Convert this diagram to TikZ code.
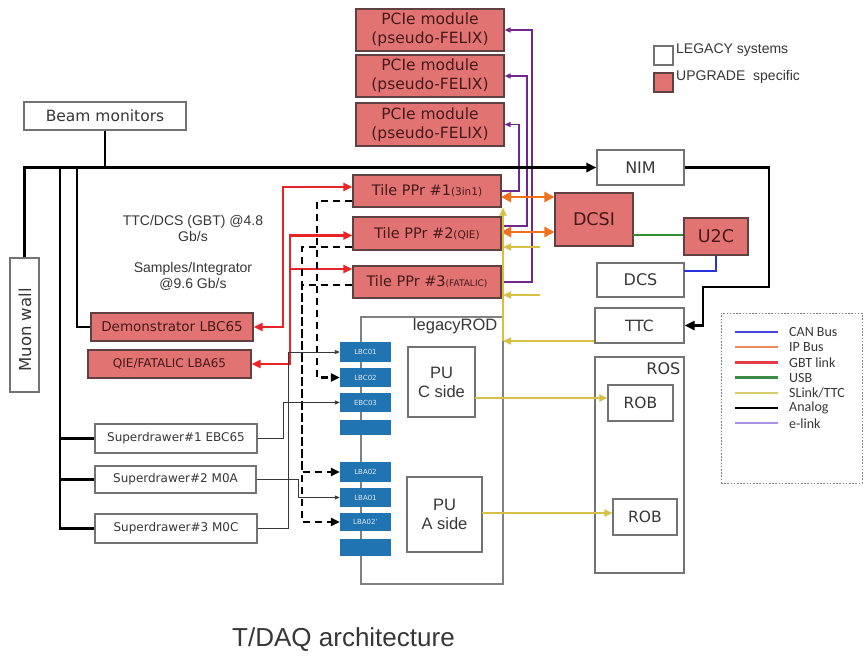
\documentclass[tikz,border=0pt]{standalone}
\usepackage{fontspec}
\setmainfont{DejaVu Sans}
\newfontfamily\ls{Liberation Sans}
\newfontfamily\cl{Carlito}
\usetikzlibrary{arrows.meta}
\definecolor{pinkf}{RGB}{226,115,115}
\definecolor{pinkd}{RGB}{95,65,65}
\definecolor{ptext}{RGB}{70,25,25}
\definecolor{bgray}{RGB}{115,115,115}
\definecolor{tgray}{RGB}{55,55,55}
\definecolor{rblue}{RGB}{32,116,178}
\definecolor{gbtred}{RGB}{232,36,40}
\definecolor{elpurple}{RGB}{112,40,140}
\definecolor{iporange}{RGB}{240,112,30}
\definecolor{usbgreen}{RGB}{50,140,50}
\definecolor{canblue}{RGB}{40,50,220}
\definecolor{slyellow}{RGB}{214,192,70}
\definecolor{lcan}{RGB}{70,70,220}
\definecolor{lip}{RGB}{235,140,90}
\definecolor{lgbt}{RGB}{230,60,70}
\definecolor{lusb}{RGB}{60,140,70}
\definecolor{lsl}{RGB}{215,205,110}
\definecolor{lel}{RGB}{170,145,230}
\tikzset{
 gtip/.tip={Triangle[length=9pt,width=8pt]},
 dtip/.tip={Triangle[length=9pt,width=8pt]},
 otip/.tip={Triangle[length=10pt,width=10pt]},
 etip/.tip={Triangle[length=6pt,width=5pt]},
 atip/.tip={Triangle[length=10pt,width=9pt]},
 stip/.tip={Triangle[length=8pt,width=7pt]},
 ttip/.tip={Triangle[length=5pt,width=4pt]},
 box/.style={draw=bgray, line width=1.1pt, fill=white, inner sep=0pt, text=tgray, align=center, font=\fontsize{14}{17}\selectfont},
 upg/.style={box, fill=pinkf, draw=pinkd, text=ptext},
 rodin/.style={fill=rblue, draw=none, inner sep=0pt, minimum width=51pt, text=white!85!rblue, font=\fontsize{7}{8}\selectfont},
 analog/.style={line width=2.6pt, black},
 gbt/.style={line width=2.4pt, gbtred},
 dsh/.style={line width=2.4pt, black, dash pattern=on 7pt off 5pt},
 elink/.style={line width=1.4pt, elpurple},
 ipbus/.style={line width=2.6pt, iporange},
 usb/.style={line width=2.4pt, usbgreen},
 canbus/.style={line width=2.4pt, canblue},
 slink/.style={line width=2.2pt, slyellow},
 thinl/.style={line width=0.9pt, tgray},
 lab/.style={inner sep=0pt, text=tgray, align=center},
}
\begin{document}
\begin{tikzpicture}[x=1pt,y=-1pt]
\useasboundingbox[fill=white] (0,0) rectangle (868,657);

% PCIe modules
\node[upg, minimum width=148pt, minimum height=42pt, font=\fontsize{15.5}{19}\selectfont] (pcie1) at (430,30) {PCIe module\\(pseudo-FELIX)};
\node[upg, minimum width=148pt, minimum height=42pt, font=\fontsize{15.5}{19}\selectfont] (pcie2) at (430,76) {PCIe module\\(pseudo-FELIX)};
\node[upg, minimum width=148pt, minimum height=43pt, font=\fontsize{15.5}{19}\selectfont] (pcie3) at (430,124.5) {PCIe module\\(pseudo-FELIX)};

% Tile PPr
\node[upg, minimum width=148pt, minimum height=32pt, font=\fontsize{14.5}{16}\selectfont] (ppr1) at (427,191) {Tile PPr \#1{\fontsize{10.5}{12}\selectfont(3in1)}};
\node[upg, minimum width=148pt, minimum height=33pt, font=\fontsize{14.5}{16}\selectfont] (ppr2) at (427,233.5) {Tile PPr \#2{\fontsize{10.5}{12}\selectfont(QIE)}};
\node[upg, minimum width=148pt, minimum height=32pt, font=\fontsize{14.5}{16}\selectfont] (ppr3) at (427,282) {Tile PPr \#3{\fontsize{9}{12}\selectfont(FATALIC)}};

% left side
\node[box, minimum width=162pt, minimum height=28pt, font=\fontsize{15.5}{17}\selectfont] (beam) at (105,116) {Beam monitors};
\node[box, minimum width=29pt, minimum height=134pt] (muon) at (24.5,325) {};
\node[lab, rotate=90, font=\fontsize{16.5}{18}\selectfont] (muontxt) at (25,330) {Muon wall};
\node[upg, minimum width=162pt, minimum height=28pt, font=\fontsize{13.5}{16}\selectfont] (demo) at (172,327) {Demonstrator LBC65};
\node[upg, minimum width=163pt, minimum height=28pt, font=\fontsize{12}{15}\selectfont] (qie) at (169.5,364) {QIE/FATALIC LBA65};
\node[box, minimum width=162pt, minimum height=29pt, font=\fontsize{12}{14}\selectfont] (sd1) at (176,438.5) {Superdrawer\#1 EBC65};
\node[box, minimum width=161pt, minimum height=27pt, font=\fontsize{12}{14}\selectfont] (sd2) at (175.5,479.5) {Superdrawer\#2 M0A};
\node[box, minimum width=162pt, minimum height=29pt, font=\fontsize{12}{14}\selectfont] (sd3) at (176,528.5) {Superdrawer\#3 M0C};

\node[lab, font=\ls\fontsize{14}{16}\selectfont] (t1) at (193,228) {TTC/DCS (GBT) @4.8\\Gb/s};
\node[lab, font=\ls\fontsize{14}{16}\selectfont] (t2) at (193,276.5) {Samples/Integrator\\@9.6 Gb/s};

% right side
\node[box, minimum width=87pt, minimum height=35pt, font=\fontsize{16}{18}\selectfont] (nim) at (640.5,167.5) {NIM};
\node[upg, minimum width=78pt, minimum height=53pt, font=\fontsize{17.5}{20}\selectfont] (dcsi) at (594,219.5) {DCSI};
\node[upg, minimum width=64pt, minimum height=37pt, font=\fontsize{17.5}{20}\selectfont] (u2c) at (716,236.5) {U2C};
\node[box, minimum width=87pt, minimum height=34pt, font=\fontsize{16}{18}\selectfont] (dcs) at (640.5,280) {DCS};
\node[box, minimum width=89pt, minimum height=35pt, font=\fontsize{15.5}{18}\selectfont] (ttc) at (639.5,325.5) {TTC};

% legacy ROD
\node[box, draw=bgray!90, minimum width=142pt, minimum height=267pt] (rod) at (432,450.5) {};
\node[lab, anchor=north east, font=\ls\fontsize{16.5}{18}\selectfont] (rodtxt) at ([xshift=-6pt,yshift=-2pt]rod.north east) {legacyROD};
\node[box, minimum width=67pt, minimum height=70pt, font=\ls\fontsize{16.5}{19}\selectfont] (puc) at (441.5,382) {PU\\C side};
\node[box, minimum width=75pt, minimum height=75pt, font=\ls\fontsize{16.5}{19}\selectfont] (pua) at (444.5,514.5) {PU\\A side};
\node[rodin, minimum height=20pt] (lbc01) at (365.5,352) {LBC01};
\node[rodin, minimum height=19pt] (lbc02) at (365.5,377.5) {LBC02};
\node[rodin, minimum height=19pt] (ebc03) at (365.5,402.5) {EBC03};
\node[rodin, minimum height=15pt] (blankc) at (365.5,427.5) {};
\node[rodin, minimum height=20pt] (lba02) at (365.5,472) {LBA02};
\node[rodin, minimum height=19pt] (lba01) at (365.5,497.5) {LBA01};
\node[rodin, minimum height=18pt] (lba02p) at (365.5,522) {LBA02'};
\node[rodin, minimum height=17pt] (blanka) at (365.5,547.5) {};

% ROS
\node[box, minimum width=89pt, minimum height=216pt] (ros) at (639.5,465) {};
\node[lab, anchor=north east, font=\fontsize{16}{18}\selectfont] (rostxt) at ([xshift=-4pt,yshift=-6pt]ros.north east) {ROS};
\node[box, minimum width=65pt, minimum height=36pt, font=\fontsize{15.5}{18}\selectfont] (rob1) at (640.5,403) {ROB};
\node[box, minimum width=64pt, minimum height=36pt, font=\fontsize{15.5}{18}\selectfont] (rob2) at (645,517) {ROB};

% legend
\node[box, minimum size=19pt] (lgw) at (663.5,55.5) {};
\node[lab, anchor=west, font=\ls\fontsize{14}{15}\selectfont] (lgwt) at (676,50) {LEGACY systems};
\node[upg, minimum size=19pt] (lgu) at (663.5,82.5) {};
\node[lab, anchor=west, font=\ls\fontsize{14}{15}\selectfont] (lgut) at (676,77) {UPGRADE\ \ specific};
\node[draw=gray, dash pattern=on 1.6pt off 1.6pt, line width=1pt, minimum width=141pt, minimum height=170pt, inner sep=0pt] (leg) at (791.5,398) {};
\foreach \c/\t [count=\i from 0] in {lcan/{CAN Bus}, lip/{IP Bus}, lgbt/{GBT link}, lusb/{USB}, lsl/{SLink/TTC}, black/{Analog}, lel/{e-link}}{
  \coordinate (la\i) at (735,{332+15.2*\i});
  \draw[\c, line width=2.4pt] (la\i) -- ++(43,0);
  \node[lab, anchor=west, font=\cl\fontsize{14}{15}\selectfont] (lt\i) at (789,{332+15.2*\i}) {\t};
}

\node[lab, font=\ls\fontsize{26}{28}\selectfont] (title) at (343.5,640) {T/DAQ architecture};

% e-links (purple)
\draw[elink,-etip] (ppr1.east) -- (519,191) |- (pcie3.east);
\draw[elink,-etip] ([yshift=7.5pt]ppr2.east) -- (527,226) |- (pcie2.east);
\draw[elink,-etip] (ppr3.east) -- (532,282) |- (pcie1.east);

% analog (black)
\coordinate (j1) at (60,167.5);
\coordinate (j2) at (77,167.5);
\draw[analog] (beam.south) -- (beam.south |- j1);
\draw[analog,-atip] (muon.north) |- (nim.west);
\draw[analog] (j1) |- (sd3.west);
\draw[analog] (j1 |- sd1.west) -- (sd1.west);
\draw[analog] (j1 |- sd2.west) -- (sd2.west);
\draw[analog] (j2) |- (demo.west);
\draw[analog,-atip] (nim.east) -- (769,167.5) -- (769,287) -- (703,287) -- (703,325.5) -- (ttc.east);

% GBT (red)
\draw[gbt,gtip-gtip] ([yshift=4pt]ppr1.west) -| (283,327) -- (demo.east);
\draw[gbt,gtip-gtip] ([yshift=-2pt]ppr2.west) -| (290,364) -- (qie.east);
\draw[gbt,-gtip] (290,269) -- ([yshift=13pt]ppr3.west);

% dashed
\draw[dsh,-dtip] ([yshift=-10pt]ppr1.west) -| (317,377.5) -- (lbc02.west);
\draw[dsh,-dtip] ([yshift=-13.5pt]ppr2.west) -| (302,472) -- (lba02.west);
\draw[dsh,-dtip] ([yshift=-3pt]ppr3.west) -| (302,522) -- (lba02p.west);

% thin links
\draw[thinl,-ttip] (sd1.east) -- (283,438.5) |- (ebc03.west);
\draw[thinl,-ttip] (sd2.east) -- (298,479.5) |- (lba01.west);
\draw[thinl,-ttip] (sd3.east) -- (288,528.5) |- (lbc01.west);

% IP bus
\coordinate (o1) at (501,197);
\coordinate (o2) at (501,232);
\draw[ipbus,otip-otip] (o1) -- (o1 -| dcsi.west);
\draw[ipbus,otip-otip] (o2) -- (o2 -| dcsi.west);

% USB, CAN
\coordinate (g1) at (633,235);
\draw[usb] (g1) -- (g1 -| u2c.west);
\coordinate (b1) at (684,271);
\draw[canbus] (b1) -| (u2c.south);

% SLink/TTC
\coordinate (y0) at (503,341);
\draw[slink] (y0) -- (y0 |- ppr2.north);
\draw[slink,-stip] (y0 |- ppr2.north) -- (y0 |- ppr1.south);
\draw[slink,-stip] (ttc.west |- y0) -- (y0);
\coordinate (y1) at (540,247);
\coordinate (y2) at (540,295);
\draw[slink,-stip] (y1) -- (y1 -| y0);
\draw[slink,-stip] (y2) -- (y2 -| y0);
\coordinate (pc) at (475,398);
\draw[slink,-stip] (pc) -- (pc -| rob1.west);
\coordinate (pa) at (482,513);
\draw[slink,-stip] (pa) -- (pa -| rob2.west);
\end{tikzpicture}
\end{document}
